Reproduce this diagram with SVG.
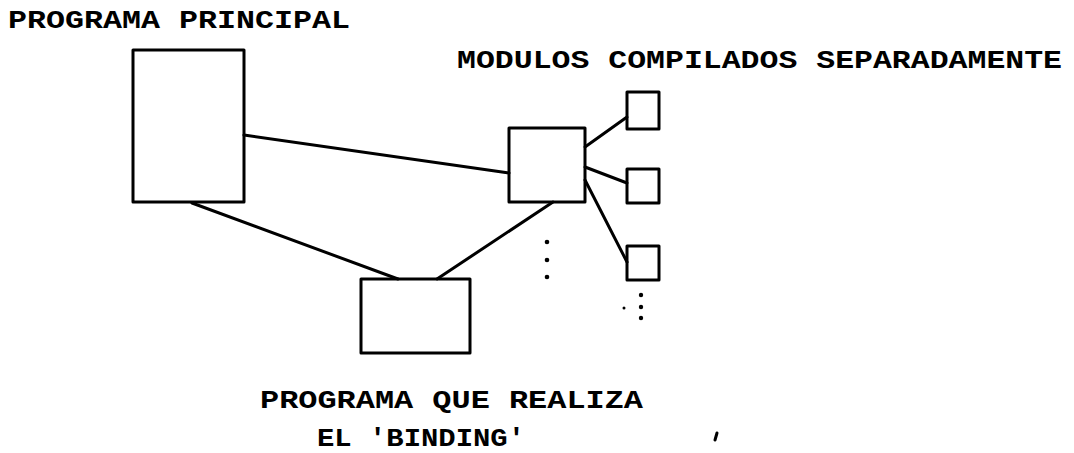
<svg xmlns="http://www.w3.org/2000/svg" width="1074" height="453" viewBox="0 0 1074 453">
  <style>
    .box { fill: none; stroke: #000; stroke-width: 3; stroke-linejoin: round; }
    .link { stroke: #000; stroke-width: 3; stroke-linecap: round; fill: none; }
    .dot { fill: #000; }
    .lbl { font-family: "Liberation Mono", "DejaVu Sans Mono", monospace; font-size: 26px; font-weight: bold; fill: #000; }
  </style>
  <rect width="1074" height="453" fill="#fff"/>

  <!-- connectors -->
  <g id="connectors">
    <line class="link" x1="244" y1="135" x2="509" y2="173"/>
    <line class="link" x1="192" y1="203" x2="398" y2="279"/>
    <line class="link" x1="437" y1="279" x2="553" y2="202"/>
    <line class="link" x1="585" y1="147" x2="627" y2="117"/>
    <line class="link" x1="585" y1="167" x2="627" y2="183"/>
    <line class="link" x1="585" y1="180" x2="627" y2="262"/>
  </g>

  <g id="main-program">
    <rect class="box" x="133" y="50" width="111" height="152"/>
    <text class="lbl" x="8" y="28" textLength="342" lengthAdjust="spacingAndGlyphs">PROGRAMA PRINCIPAL</text>
  </g>

  <g id="module-hub">
    <rect class="box" x="509" y="128" width="76" height="74"/>
    <text class="lbl" x="457" y="68" textLength="605" lengthAdjust="spacingAndGlyphs">MODULOS COMPILADOS SEPARADAMENTE</text>
  </g>

  <g id="module-1">
    <rect class="box" x="627" y="92" width="32" height="37"/>
  </g>
  <g id="module-2">
    <rect class="box" x="627" y="169" width="32" height="34"/>
  </g>
  <g id="module-3">
    <rect class="box" x="627" y="246" width="32" height="34"/>
  </g>

  <!-- ellipsis marks -->
  <g id="more-hubs">
    <circle class="dot" cx="547" cy="242" r="2.3"/>
    <circle class="dot" cx="547" cy="260" r="2.3"/>
    <circle class="dot" cx="547" cy="277" r="2.3"/>
  </g>
  <g id="more-modules">
    <circle class="dot" cx="641" cy="295" r="2.2"/>
    <circle class="dot" cx="641" cy="307" r="2.2"/>
    <circle class="dot" cx="641" cy="318" r="2.2"/>
    <circle class="dot" cx="624" cy="308" r="1.5"/>
  </g>

  <g id="binder">
    <rect class="box" x="361" y="279" width="109" height="74"/>
    <text class="lbl" x="260" y="408" textLength="383" lengthAdjust="spacingAndGlyphs">PROGRAMA QUE REALIZA</text>
    <text class="lbl" x="317" y="446" font-size="24" textLength="208" lengthAdjust="spacingAndGlyphs">EL 'BINDING'</text>
  </g>

  <line class="link" x1="717" y1="433" x2="715" y2="440" stroke-width="1.5"/>
</svg>
